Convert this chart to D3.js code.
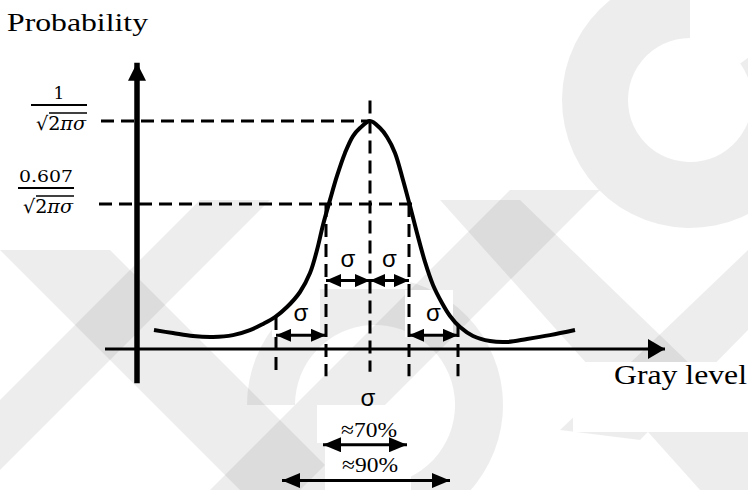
<!DOCTYPE html>
<html>
<head>
<meta charset="utf-8">
<script src="https://cdn.jsdelivr.net/npm/d3@7"></script>
<style>
  body { margin: 0; background: #fff; }
  svg { display: block; }
</style>
</head>
<body>
<svg width="748" height="490"></svg>
<script>
// gray level (0-255) and normalised probability
const grayLevels = [8.5, 18, 28, 38, 48, 56.5, 63, 69, 75, 81.5, 86.5, 90, 93, 96.5, 100, 104, 108, 111.5,
  116.5, 121.5, 125, 129, 133, 136.5, 140, 144, 148, 152.5, 156.5, 161.5, 168, 176.5, 185, 195, 206.5, 219];
const probability = [0.083, 0.07, 0.057, 0.053, 0.061, 0.083, 0.11, 0.14, 0.184, 0.25, 0.333, 0.434, 0.544, 0.654, 0.759, 0.86, 0.934, 0.969,
  1.0, 0.969, 0.93, 0.86, 0.741, 0.627, 0.509, 0.382, 0.281, 0.202, 0.145, 0.096, 0.057, 0.035, 0.031, 0.044, 0.061, 0.083];

const mean = 116.5;
const sigmaMarks = [69.5, 94.5, 136, 160.5]; // -2σ, -σ, +σ, +2σ
const levels = [1, 0.636];
const levelNums = ['1', '0.607'];
const xExtent = [-16, 264];
const yExtent = [-0.15, 1.255];

const svg = d3.select('svg');
const x = d3.scaleLinear().domain([0, 255]).range([137, 647]);
const y = d3.scaleLinear().domain([0, 1]).range([349, 121]);

// faint watermark in the background
const wm = svg.append('g').attr('fill', '#000').attr('fill-opacity', 0.07);
wm.append('path')
  .attr('transform', 'translate(690,100)')
  .attr('d', d3.arc().innerRadius(62).outerRadius(128).startAngle(0.3 * Math.PI).endAngle(2 * Math.PI)());
wm.append('path')
  .attr('transform', 'translate(375,405)')
  .attr('d', d3.arc().innerRadius(80).outerRadius(128).startAngle(-0.5 * Math.PI).endAngle(0.95 * Math.PI)());
wm.append('polygon').attr('points', '0,250 110,250 330,470 330,490 240,490');
wm.append('polygon').attr('points', '0,470 0,400 200,200 270,200');
wm.append('polygon').attr('points', '210,490 510,190 600,190 300,490');
wm.append('polygon').attr('points', '440,200 520,200 748,420 748,490 700,490');
wm.append('polygon').attr('points', '560,430 748,250 748,330 640,440');

// white patches behind the labels
const patches = [[318, 233, 92, 56], [272, 290, 48, 47], [405, 290, 48, 47], [317, 405, 95, 38], [325, 443, 86, 47], [573, 362, 175, 70]];
svg.append('g').selectAll('rect').data(patches).enter().append('rect')
  .attr('x', (d) => d[0]).attr('y', (d) => d[1])
  .attr('width', (d) => d[2]).attr('height', (d) => d[3])
  .attr('fill', '#fff');

const defs = svg.append('defs');
function marker(id, len, h) {
  defs.append('marker')
    .attr('id', id)
    .attr('markerUnits', 'userSpaceOnUse')
    .attr('viewBox', `0 0 ${len} ${h}`)
    .attr('refX', len).attr('refY', h / 2)
    .attr('markerWidth', len).attr('markerHeight', h)
    .attr('orient', 'auto-start-reverse')
    .append('path')
    .attr('d', `M0,0L${len},${h / 2}L0,${h}Z`)
    .attr('fill', '#000');
}
marker('axisY', 18, 18);
marker('axisX', 17, 20);
marker('small', 15, 13);
marker('big', 18, 15);

// axes
svg.append('line')
  .attr('x1', x(0)).attr('x2', x(0))
  .attr('y1', y(yExtent[0])).attr('y2', y(yExtent[1]))
  .attr('stroke', '#000').attr('stroke-width', 5.5)
  .attr('marker-end', 'url(#axisY)');
svg.append('line')
  .attr('x1', x(xExtent[0])).attr('x2', x(xExtent[1]))
  .attr('y1', y(0)).attr('y2', y(0))
  .attr('stroke', '#000').attr('stroke-width', 3)
  .attr('marker-end', 'url(#axisX)');

// dashed guides
const dash = '13,7';
svg.append('line')
  .attr('x1', x(-18)).attr('x2', x(mean))
  .attr('y1', y(levels[0])).attr('y2', y(levels[0]))
  .attr('stroke', '#000').attr('stroke-width', 3).attr('stroke-dasharray', dash);
svg.append('line')
  .attr('x1', x(-19)).attr('x2', x(139))
  .attr('y1', y(levels[1])).attr('y2', y(levels[1]))
  .attr('stroke', '#000').attr('stroke-width', 3).attr('stroke-dasharray', dash);
svg.append('line')
  .attr('x1', x(mean)).attr('x2', x(mean))
  .attr('y1', y(1.09)).attr('y2', y(-0.1))
  .attr('stroke', '#000').attr('stroke-width', 3).attr('stroke-dasharray', dash);
const vTops = [0.14, levels[1], levels[1], 0.11];
svg.append('g').selectAll('line').data(sigmaMarks).enter().append('line')
  .attr('x1', (d) => x(d)).attr('x2', (d) => x(d))
  .attr('y1', (d, i) => y(vTops[i])).attr('y2', y(-0.12))
  .attr('stroke', '#000').attr('stroke-width', 3).attr('stroke-dasharray', dash);

// the curve
const pts = grayLevels.map((g, i) => [g, probability[i]]);
svg.append('path')
  .datum(pts)
  .attr('fill', 'none')
  .attr('stroke', '#000')
  .attr('stroke-width', 4)
  .attr('d', d3.line().x((d) => x(d[0])).y((d) => y(d[1])).curve(d3.curveCatmullRom));

// σ arrows
const sigmaSpans = [[sigmaMarks[1], mean, 0.3], [mean, sigmaMarks[2], 0.3], [sigmaMarks[0], sigmaMarks[1], 0.06], [sigmaMarks[2], sigmaMarks[3], 0.06]];
svg.append('g').selectAll('line').data(sigmaSpans).enter().append('line')
  .attr('x1', (d) => x(d[0])).attr('x2', (d) => x(d[1]))
  .attr('y1', (d) => y(d[2])).attr('y2', (d) => y(d[2]))
  .attr('stroke', '#000').attr('stroke-width', 3)
  .attr('marker-start', 'url(#small)').attr('marker-end', 'url(#small)');
svg.append('g').selectAll('text').data(sigmaSpans).enter().append('text')
  .attr('x', (d) => (x(d[0]) + x(d[1])) / 2)
  .attr('y', (d) => y(d[2]) - 14)
  .attr('text-anchor', 'middle')
  .attr('font-family', 'Liberation Sans, Arial, sans-serif')
  .attr('font-size', '24px')
  .text('σ');
svg.append('text')
  .attr('x', x(mean) - 2).attr('y', 406)
  .attr('text-anchor', 'middle')
  .attr('font-family', 'Liberation Sans, Arial, sans-serif')
  .attr('font-size', '24px')
  .text('σ');

// percentage arrows
const pctSpans = [['≈70%', 93, 135, -0.42, 437], ['≈90%', 72.5, 156.5, -0.577, 472]];
svg.append('g').selectAll('line').data(pctSpans).enter().append('line')
  .attr('x1', (d) => x(d[1])).attr('x2', (d) => x(d[2]))
  .attr('y1', (d) => y(d[3])).attr('y2', (d) => y(d[3]))
  .attr('stroke', '#000').attr('stroke-width', 3)
  .attr('marker-start', 'url(#big)').attr('marker-end', 'url(#big)');
svg.append('g').selectAll('text').data(pctSpans).enter().append('text')
  .attr('x', (d) => (x(d[1]) + x(d[2])) / 2 + 4)
  .attr('y', (d) => d[4])
  .attr('text-anchor', 'middle')
  .attr('font-family', 'Liberation Serif, Times New Roman, serif')
  .attr('font-size', '22px')
  .attr('textLength', 56).attr('lengthAdjust', 'spacingAndGlyphs')
  .text((d) => d[0]);

// axis titles
svg.append('text')
  .attr('x', 7).attr('y', 31)
  .attr('font-family', 'Liberation Serif, Times New Roman, serif')
  .attr('font-size', '26px')
  .attr('textLength', 141).attr('lengthAdjust', 'spacingAndGlyphs')
  .text('Probability');
svg.append('text')
  .attr('x', 614).attr('y', 384)
  .attr('font-family', 'Liberation Serif, Times New Roman, serif')
  .attr('font-size', '27px')
  .attr('textLength', 133).attr('lengthAdjust', 'spacingAndGlyphs')
  .text('Gray level');

// fraction labels on the probability axis
const fracs = svg.append('g').selectAll('g').data(levels).enter().append('g')
  .attr('transform', (d, i) => `translate(${i === 0 ? 59 : 46},${y(d) - 16})`);
fracs.append('text')
  .attr('y', -6)
  .attr('text-anchor', 'middle')
  .attr('font-family', 'DejaVu Serif, serif')
  .attr('font-size', '17px')
  .attr('textLength', (d, i) => (i === 0 ? null : 54))
  .attr('lengthAdjust', 'spacingAndGlyphs')
  .text((d, i) => levelNums[i]);
fracs.append('line')
  .attr('x1', -28).attr('x2', 28)
  .attr('y1', 0).attr('y2', 0)
  .attr('stroke', '#000').attr('stroke-width', 2);
const den = fracs.append('text')
  .attr('x', -23).attr('y', 25)
  .attr('font-family', 'DejaVu Serif, serif')
  .attr('font-size', '19px')
  .attr('textLength', 50).attr('lengthAdjust', 'spacingAndGlyphs');
den.append('tspan').text('√');
den.append('tspan').text('2');
den.append('tspan').attr('font-style', 'italic').text('πσ');
fracs.append('line')
  .attr('x1', -10).attr('x2', 28)
  .attr('y1', 8).attr('y2', 8)
  .attr('stroke', '#000').attr('stroke-width', 1.4);
</script>
</body>
</html>
